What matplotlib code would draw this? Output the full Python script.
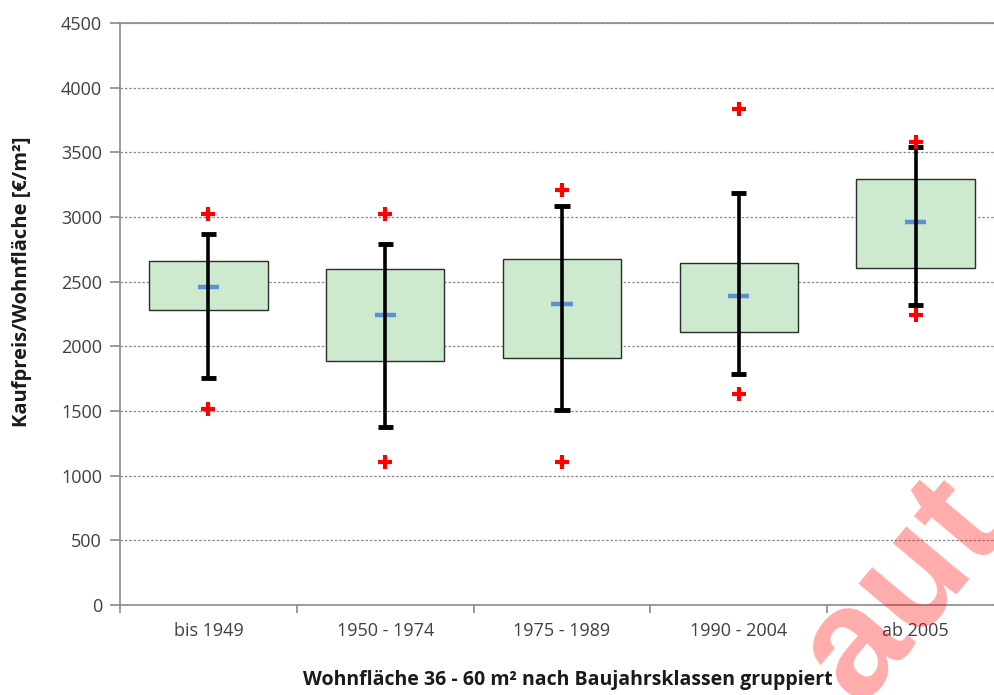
import matplotlib.pyplot as plt
import numpy as np

# Baujahrsklassen
klassen = ['bis 1949', '1950 - 1974', '1975 - 1989', '1990 - 2004', 'ab 2005']
minimum = [1515, 1106, 1106, 1631, 2242]
whisker_lo = [1755, 1379, 1508, 1786, 2320]
q1 = [2281, 1889, 1912, 2111, 2603]
median = [2459, 2240, 2330, 2387, 2961]
q3 = [2660, 2596, 2673, 2644, 3296]
whisker_hi = [2869, 2789, 3085, 3183, 3544]
maximum = [3023, 3027, 3209, 3833, 3582]

plt.rcParams['font.family'] = ['Open Sans', 'DejaVu Sans']

fig = plt.figure(figsize=(9.95, 6.95), dpi=100, facecolor='white')
ax = fig.add_axes([120 / 995, 90 / 695, 884 / 995, 582 / 695])

x = np.arange(len(klassen))
box_w = 0.67
cap_w = 0.085
med_w = 0.12

ax.bar(x, np.array(q3) - np.array(q1), bottom=q1, width=box_w,
       color='#cdeacf', edgecolor='#2b2b2b', linewidth=1.0, zorder=2)
ax.hlines(median, x - med_w / 2, x + med_w / 2, color='#5b8fd6', linewidth=3.2, zorder=3)
ax.vlines(x, whisker_lo, whisker_hi, color='black', linewidth=2.6, zorder=4)
ax.hlines(whisker_lo, x - cap_w / 2, x + cap_w / 2, color='black', linewidth=3.5, zorder=4)
ax.hlines(whisker_hi, x - cap_w / 2, x + cap_w / 2, color='black', linewidth=3.5, zorder=4)
ax.plot(x, minimum, '+', color='#ff0000', markersize=10, markeredgewidth=3, zorder=5)
ax.plot(x, maximum, '+', color='#ff0000', markersize=10, markeredgewidth=3, zorder=5)

ax.set_xlim(-0.5, len(klassen) - 0.5)
ax.set_ylim(0, 4500)
ax.set_yticks(np.arange(0, 4501, 500))
ax.set_xticks(x)
ax.set_xticklabels(klassen)
ax.set_xticks(np.arange(-0.5, len(klassen), 1.0), minor=True)

ax.grid(axis='y', color='#8a8a8a', linestyle=(0, (2, 1.5)), linewidth=0.9, zorder=0)
ax.set_axisbelow(True)
for s in ['left', 'bottom', 'top']:
    ax.spines[s].set_color('#8a8a8a')
    ax.spines[s].set_linewidth(1.2)
ax.spines['right'].set_visible(False)

ax.tick_params(axis='y', which='major', length=7, color='#8a8a8a', width=1.2,
               labelsize=13, labelcolor='#404040', pad=6)
ax.tick_params(axis='x', which='major', length=0, labelsize=13, labelcolor='#404040', pad=12)
ax.tick_params(axis='x', which='minor', length=6, color='#8a8a8a', width=1.2, direction='out')

ax.set_ylabel('Kaufpreis/Wohnfläche [€/m²]', fontsize=14.5, fontweight='bold',
              color='#1a1a1a')
ax.yaxis.set_label_coords(-0.1, 0.555)
fig.text(568 / 995, 1 - 680 / 695, 'Wohnfläche 36 - 60 m² nach Baujahrsklassen gruppiert',
         fontsize=14, fontweight='bold', color='#1a1a1a', ha='center', va='center')

# watermark fragment
fig.text(903 / 995, 1 - 590 / 695, 'aut', fontsize=112, fontweight='bold',
         family='Liberation Sans', color='#ff0000', alpha=0.33,
         rotation=50, rotation_mode='anchor', ha='center', va='center', zorder=10)

fig.savefig('out.png', dpi=100, facecolor='white')
